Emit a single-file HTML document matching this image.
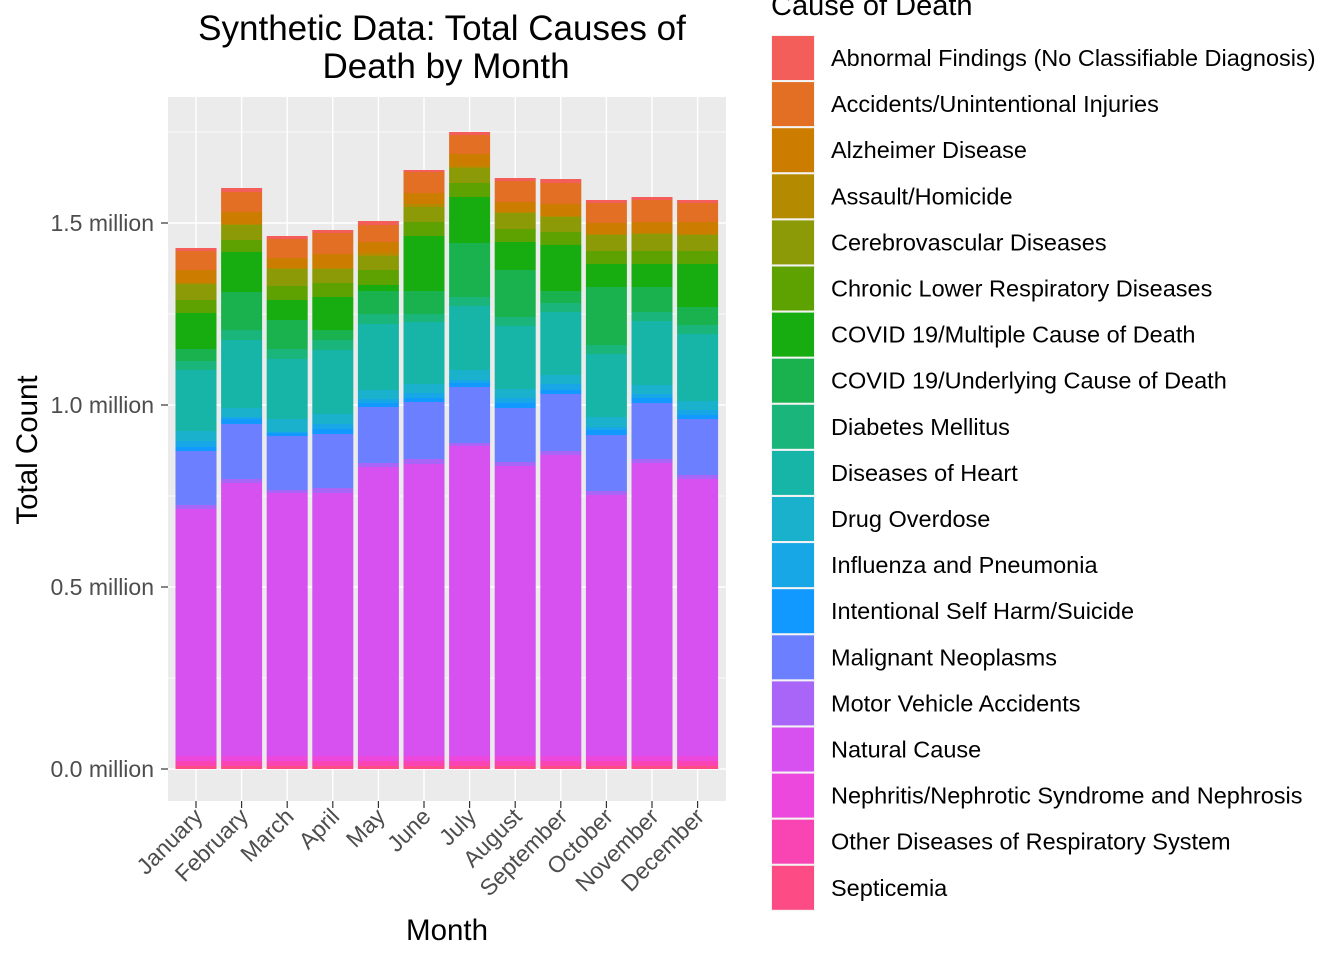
<!DOCTYPE html>
<html><head><meta charset="utf-8"><style>
body{margin:0;background:#fff;}
svg text{font-family:"Liberation Sans",Arial,sans-serif;}
</style></head><body>
<svg id="s" width="1344" height="960" xmlns="http://www.w3.org/2000/svg">
<rect x="168" y="97" width="558" height="704" fill="#EBEBEB"/>
<g stroke="#fff" stroke-width="0.7">
<line x1="168" x2="726" y1="678" y2="678"/><line x1="168" x2="726" y1="496" y2="496"/>
<line x1="168" x2="726" y1="314" y2="314"/><line x1="168" x2="726" y1="132" y2="132"/>
</g>
<g id="grid" stroke="#fff" stroke-width="1.4">
<line x1="168" x2="726" y1="769" y2="769"/><line x1="168" x2="726" y1="587" y2="587"/>
<line x1="168" x2="726" y1="405" y2="405"/><line x1="168" x2="726" y1="223" y2="223"/>
</g>
<g id="bars"></g>
<g font-size="23" fill="#4D4D4D" text-anchor="end">
<text x="154" y="777">0.0 million</text><text x="154" y="595">0.5 million</text>
<text x="154" y="413">1.0 million</text><text x="154" y="231">1.5 million</text>
</g>
<g stroke="#333" stroke-width="1.2">
<line x1="161" x2="168" y1="769" y2="769"/><line x1="161" x2="168" y1="587" y2="587"/>
<line x1="161" x2="168" y1="405" y2="405"/><line x1="161" x2="168" y1="223" y2="223"/>
</g>
<g id="xl" font-size="23" fill="#4D4D4D" text-anchor="end"></g>
<text x="442" y="40" font-size="35" text-anchor="middle" fill="#000">Synthetic Data: Total Causes of</text>
<text x="446" y="78" font-size="35" text-anchor="middle" fill="#000">Death by Month</text>
<text x="447" y="940" font-size="29.5" text-anchor="middle">Month</text>
<text transform="translate(37,450) rotate(-90)" font-size="29.5" text-anchor="middle">Total Count</text>
<text x="771" y="15" font-size="29">Cause of Death</text>
<g id="leg" font-size="23.5" fill="#000"></g>
</svg>
<script>
var cols=["#F35E5A","#E36F25","#CC7D00","#B38A00","#8B9A06","#5DA200","#17AD10","#19B24F","#1AB57A","#17B5A8","#1AB1CC","#17A6E6","#1199FF","#6B7FFF","#A865F8","#D651F0","#EC48DE","#F945B4","#FD4C85"];
var names=["Abnormal Findings (No Classifiable Diagnosis)","Accidents/Unintentional Injuries","Alzheimer Disease","Assault/Homicide","Cerebrovascular Diseases","Chronic Lower Respiratory Diseases","COVID 19/Multiple Cause of Death","COVID 19/Underlying Cause of Death","Diabetes Mellitus","Diseases of Heart","Drug Overdose","Influenza and Pneumonia","Intentional Self Harm/Suicide","Malignant Neoplasms","Motor Vehicle Accidents","Natural Cause","Nephritis/Nephrotic Syndrome and Nephrosis","Other Diseases of Respiratory System","Septicemia"];
var months=["January","February","March","April","May","June","July","August","September","October","November","December"];
var B=[
[248,251,270,283,284,300,313,349,361,370,431,441,447,451,505,509],
[188,192,212,224,225,240,252,292,330,340,408,417,419,424,479,483],
[236,239,258,268,269,286,300,320,349,359,419,432,433,436,490,493],
[230,233,254,268,269,283,297,330,340,350,414,424,429,434,488,493],
[221,225,242,253,256,270,285,291,314,324,390,399,403,407,463,467],
[170,172,193,204,207,222,236,291,314,322,384,393,398,402,459,464],
[132,135,154,166,168,183,197,243,297,306,370,380,383,387,443,446],
[178,181,202,212,213,229,242,270,317,326,389,398,403,408,462,466],
[179,183,204,216,217,232,245,291,303,312,375,384,390,394,451,455],
[200,203,223,234,235,251,264,287,345,354,417,427,430,435,491,495],
[197,200,222,233,234,251,264,287,312,321,385,394,398,403,459,463],
[200,203,222,234,235,251,264,307,325,334,401,410,415,419,475,479]];
var ns="http://www.w3.org/2000/svg";
function el(p,t,a,txt){var e=document.createElementNS(ns,t);for(var k in a)e.setAttribute(k,a[k]);if(txt)e.textContent=txt;p.appendChild(e);return e;}
var g=document.getElementById("grid");
for(var i=0;i<12;i++){var cx=196+i*45.6;el(g,"line",{x1:cx,x2:cx,y1:97,y2:801});}
var bars=document.getElementById("bars"),xl=document.getElementById("xl");
for(var i=0;i<12;i++){
 var cx=196+i*45.6,b=B[i].concat([756,761,766,769]);
 for(var j=0;j<19;j++){el(bars,"rect",{x:cx-20.5,y:b[j],width:41,height:Math.max(0,b[j+1]-b[j]),fill:cols[j]});}
 el(xl.parentNode,"line",{x1:cx,x2:cx,y1:801,y2:808,stroke:"#333","stroke-width":1.2});
 el(xl,"text",{transform:"translate("+(cx+8)+",818) rotate(-45)"},months[i]);
}
var leg=document.getElementById("leg");
for(var j=0;j<19;j++){var y=35+j*46.1;
 el(leg,"rect",{x:771,y:y,width:44,height:46,fill:"#F2F2F2"});
 el(leg,"rect",{x:772,y:y+1,width:42,height:44,fill:cols[j]});
 el(leg,"text",{x:831,y:y+31},names[j]);}
</script>
</body></html>
